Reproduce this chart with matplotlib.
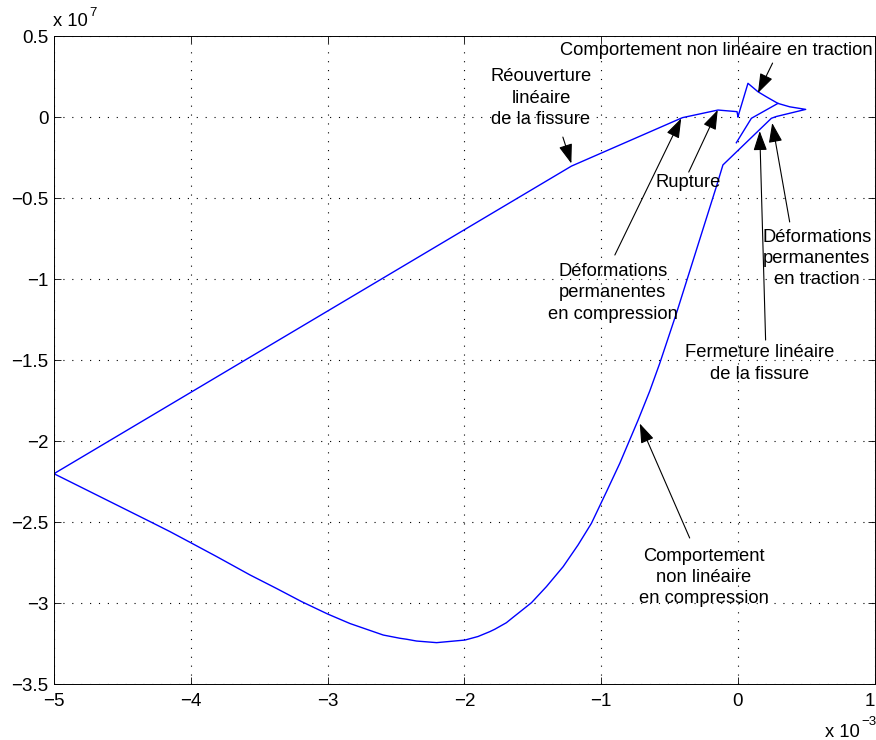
import matplotlib
matplotlib.use('Agg')
import matplotlib.pyplot as plt

plt.rcParams['font.family'] = ['Liberation Sans', 'DejaVu Sans']

# strain in 1e-3, stress in 1e7
loop_x = [0.0, 0.073, 0.146, 0.207, 0.292, 0.378, 0.495, 0.28, 0.244,
          -0.110, -0.158, -0.304, -0.45, -0.572, -0.645, -0.73, -0.864,
          -0.961, -1.071, -1.169, -1.278, -1.4, -1.509, -1.607, -1.643,
          -1.693, -1.777, -1.814, -1.9, -1.996, -2.203, -2.35, -2.422,
          -2.471, -2.593, -2.836, -3.0, -3.189, -3.372, -3.567, -3.81,
          -4.0, -4.151, -4.297, -5.0,
          -1.217, -0.406, -0.146, -0.007, 0.0]
loop_y = [0.004, 0.21, 0.158, 0.127, 0.086, 0.065, 0.049, 0.005, -0.006,
          -0.294, -0.428, -0.819, -1.21, -1.519, -1.69, -1.869, -2.136,
          -2.311, -2.506, -2.64, -2.774, -2.897, -2.996, -3.062, -3.086,
          -3.12, -3.16, -3.175, -3.205, -3.227, -3.243, -3.233, -3.222,
          -3.216, -3.196, -3.125, -3.066, -2.99, -2.909, -2.825, -2.712,
          -2.626, -2.558, -2.496, -2.2,
          -0.301, -0.002, 0.045, 0.035, 0.004]

# unloading branch in traction
branch_x = [0.292, 0.098, -0.012]
branch_y = [0.086, -0.006, -0.157]

xticks = [-5, -4, -3, -2, -1, 0, 1]
yticks = [0.5, 0, -0.5, -1, -1.5, -2, -2.5, -3, -3.5]

# (label, text pos, arrow tail, arrow tip)
notes = [
    ('Comportement non linéaire en traction', (-0.156, 0.412), (0.253, 0.335), (0.146, 0.15)),
    ('Réouverture\nlinéaire\nde la fissure', (-1.44, 0.119), (-1.28, -0.122), (-1.218, -0.285)),
    ('Rupture', (-0.367, -0.40), (-0.36, -0.338), (-0.148, 0.045)),
    ('Déformations\npermanentes\nen compression', (-0.915, -1.084), (-0.90, -0.85), (-0.415, -0.007)),
    ('Fermeture linéaire\nde la fissure', (0.159, -1.52), (0.202, -1.375), (0.159, -0.085)),
    ('Déformations\npermanentes\nen traction', (0.575, -0.872), (0.378, -0.646), (0.25, -0.035)),
    ('Comportement\nnon linéaire\nen compression', (-0.25, -2.842), (-0.353, -2.597), (-0.718, -1.89)),
]

fig = plt.figure(figsize=(8.76, 7.40), dpi=100)
ax = fig.add_axes([0.0616, 0.0753, 0.937, 0.8756])

ax.plot(loop_x, loop_y, color='#0000ff', lw=1.0)
ax.plot(branch_x, branch_y, color='#0000ff', lw=1.0)

for label, tpos, tail, tip in notes:
    ax.text(tpos[0], tpos[1], label, ha='center', va='center', fontsize=13.2,
            linespacing=1.32)
    ax.annotate('', xy=tip, xytext=tail,
                arrowprops=dict(arrowstyle='-|>,head_length=1.2,head_width=0.42',
                                color='k', lw=0.8, shrinkA=0, shrinkB=0,
                                mutation_scale=10))

ax.set_xlim(-5, 1)
ax.set_ylim(-3.5, 0.5)
ax.set_xticks(xticks)
ax.set_yticks(yticks)
ax.set_xticklabels([('%g' % t).replace('-', '\u2212') for t in xticks])
ax.set_yticklabels([('%g' % t).replace('-', '\u2212') for t in yticks])
ax.get_xticklabels()[-1].set_ha('right')  # last label sits at the figure edge
ax.tick_params(direction='in', top=True, right=True, length=5, width=0.6,
               labelsize=13.5)
ax.tick_params(axis='x', pad=6)
ax.tick_params(axis='y', pad=4)
ax.grid(True, color='k', lw=0.8, linestyle=(0, (1, 7)))
for s in ax.spines.values():
    s.set_linewidth(0.7)

# exponent labels, matlab style
fig.text(0.0805, 0.971, 'x 10', fontsize=13.2, va='center', ha='center')
fig.text(0.106, 0.983, '7', fontsize=9.5, va='center', ha='center')
fig.text(0.9618, 0.0095, 'x 10', fontsize=13.2, va='center', ha='center')
fig.text(0.9914, 0.0243, '\u22123', fontsize=9.5, va='center', ha='center')

fig.savefig('out.png', dpi=100)
